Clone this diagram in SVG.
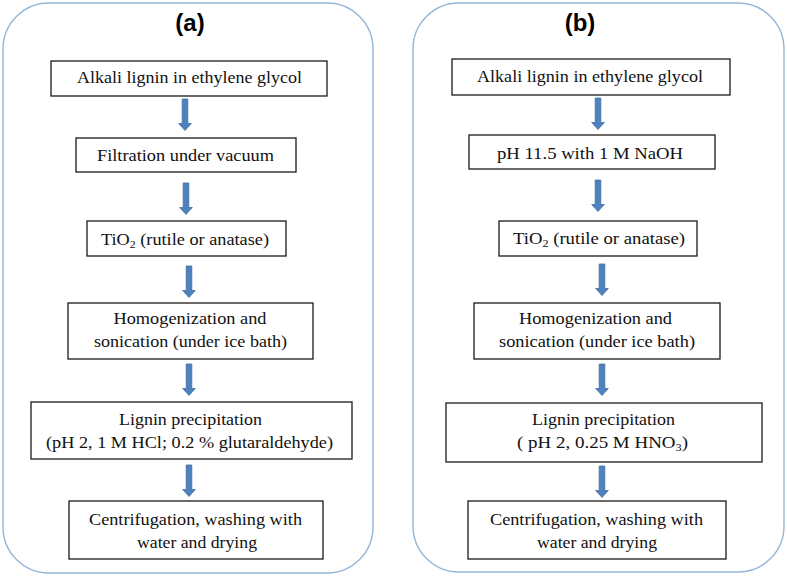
<svg xmlns="http://www.w3.org/2000/svg" xmlns:xlink="http://www.w3.org/1999/xlink" width="787" height="577" viewBox="0 0 787 577">
<style>
.panel{fill:#fff;stroke:#94b6d6;stroke-width:1.4}
.box{fill:#fff;stroke:#1a1a1a;stroke-width:1.3}
.t{font-family:'Times New Roman','Liberation Serif','DejaVu Serif','Noto Serif',Times,serif;font-size:17px;fill:#111;text-anchor:middle}
.title{font-family:'Liberation Sans',Arial,sans-serif;font-size:24px;font-weight:bold;fill:#000;text-anchor:middle}
.arr{fill:#4f81bd;stroke:#3d6ea6;stroke-width:0.8}
.sub{font-size:11px}
</style>
<defs>
<path id="ar" d="M-2.8,0 H2.8 V24.5 H6.3 L0,31.5 L-6.3,24.5 H-2.8 Z"/>
</defs>
<rect x="0" y="0" width="787" height="577" fill="#fff"/>
<g id="panel-a">
<rect class="panel" x="3" y="3" width="370" height="570" rx="46" ry="46"/>
<text class="title" x="190" y="31">(a)</text>
</g>
<g id="panel-b">
<rect class="panel" x="413" y="3" width="371" height="569" rx="46" ry="46"/>
<text class="title" x="580" y="31">(b)</text>
</g>
<g id="connectors">
<use xlink:href="#ar" class="arr" transform="translate(185,99)"/>
<use xlink:href="#ar" class="arr" transform="translate(186,183)"/>
<use xlink:href="#ar" class="arr" transform="translate(189,266)"/>
<use xlink:href="#ar" class="arr" transform="translate(189,364)"/>
<use xlink:href="#ar" class="arr" transform="translate(189,465)"/>
<use xlink:href="#ar" class="arr" transform="translate(598,98)"/>
<use xlink:href="#ar" class="arr" transform="translate(598,180)"/>
<use xlink:href="#ar" class="arr" transform="translate(602,264)"/>
<use xlink:href="#ar" class="arr" transform="translate(602,364)"/>
<use xlink:href="#ar" class="arr" transform="translate(602,466)"/>
</g>
<g id="a1">
<rect class="box" x="51" y="61" width="276" height="35"/>
<text class="t" x="189.5" y="83" textLength="225" lengthAdjust="spacingAndGlyphs">Alkali lignin  in ethylene glycol</text>
</g>
<g id="a2">
<rect class="box" x="76" y="138" width="220" height="34"/>
<text class="t" x="185.5" y="161" textLength="177" lengthAdjust="spacingAndGlyphs">Filtration under vacuum</text>
</g>
<g id="a3">
<rect class="box" x="87" y="221" width="199" height="35"/>
<text class="t" x="185" y="245" textLength="168" lengthAdjust="spacingAndGlyphs">TiO<tspan class="sub" dy="3">2</tspan><tspan dy="-3"> (rutile or anatase)</tspan></text>
</g>
<g id="a4">
<rect class="box" x="68" y="303" width="245" height="56"/>
<text class="t" x="190" y="324" textLength="153" lengthAdjust="spacingAndGlyphs">Homogenization  and</text>
<text class="t" x="190.5" y="347" textLength="193" lengthAdjust="spacingAndGlyphs">sonication (under ice bath)</text>
</g>
<g id="a5">
<rect class="box" x="31" y="402" width="321" height="57"/>
<text class="t" x="190.5" y="425" textLength="143" lengthAdjust="spacingAndGlyphs">Lignin  precipitation</text>
<text class="t" x="189.5" y="448" textLength="287" lengthAdjust="spacingAndGlyphs">(pH 2, 1 M HCl; 0.2 % glutaraldehyde)</text>
</g>
<g id="a6">
<rect class="box" x="69" y="501" width="254" height="58"/>
<text class="t" x="195.5" y="525" textLength="213" lengthAdjust="spacingAndGlyphs">Centrifugation, washing with</text>
<text class="t" x="197" y="548" textLength="120" lengthAdjust="spacingAndGlyphs">water and drying</text>
</g>
<g id="b1">
<rect class="box" x="452" y="59" width="278" height="36"/>
<text class="t" x="590" y="82" textLength="226" lengthAdjust="spacingAndGlyphs">Alkali lignin  in ethylene glycol</text>
</g>
<g id="b2">
<rect class="box" x="469" y="135" width="246" height="34"/>
<text class="t" x="590" y="159" textLength="186" lengthAdjust="spacingAndGlyphs">pH 11.5 with 1 M NaOH</text>
</g>
<g id="b3">
<rect class="box" x="499" y="221" width="198" height="35"/>
<text class="t" x="599" y="244" textLength="172" lengthAdjust="spacingAndGlyphs">TiO<tspan class="sub" dy="3">2</tspan><tspan dy="-3"> (rutile or anatase)</tspan></text>
</g>
<g id="b4">
<rect class="box" x="474" y="303" width="246" height="56"/>
<text class="t" x="595.5" y="324" textLength="153" lengthAdjust="spacingAndGlyphs">Homogenization  and</text>
<text class="t" x="597" y="347" textLength="196" lengthAdjust="spacingAndGlyphs">sonication (under ice bath)</text>
</g>
<g id="b5">
<rect class="box" x="446" y="403" width="316" height="59"/>
<text class="t" x="603.5" y="425" textLength="143" lengthAdjust="spacingAndGlyphs">Lignin  precipitation</text>
<text class="t" x="602.5" y="448" textLength="171" lengthAdjust="spacingAndGlyphs">( pH 2, 0.25 M HNO<tspan class="sub" dy="3">3</tspan><tspan dy="-3">)</tspan></text>
</g>
<g id="b6">
<rect class="box" x="468" y="501" width="258" height="58"/>
<text class="t" x="596.5" y="525" textLength="213" lengthAdjust="spacingAndGlyphs">Centrifugation, washing with</text>
<text class="t" x="597" y="548" textLength="120" lengthAdjust="spacingAndGlyphs">water and drying</text>
</g>
</svg>
